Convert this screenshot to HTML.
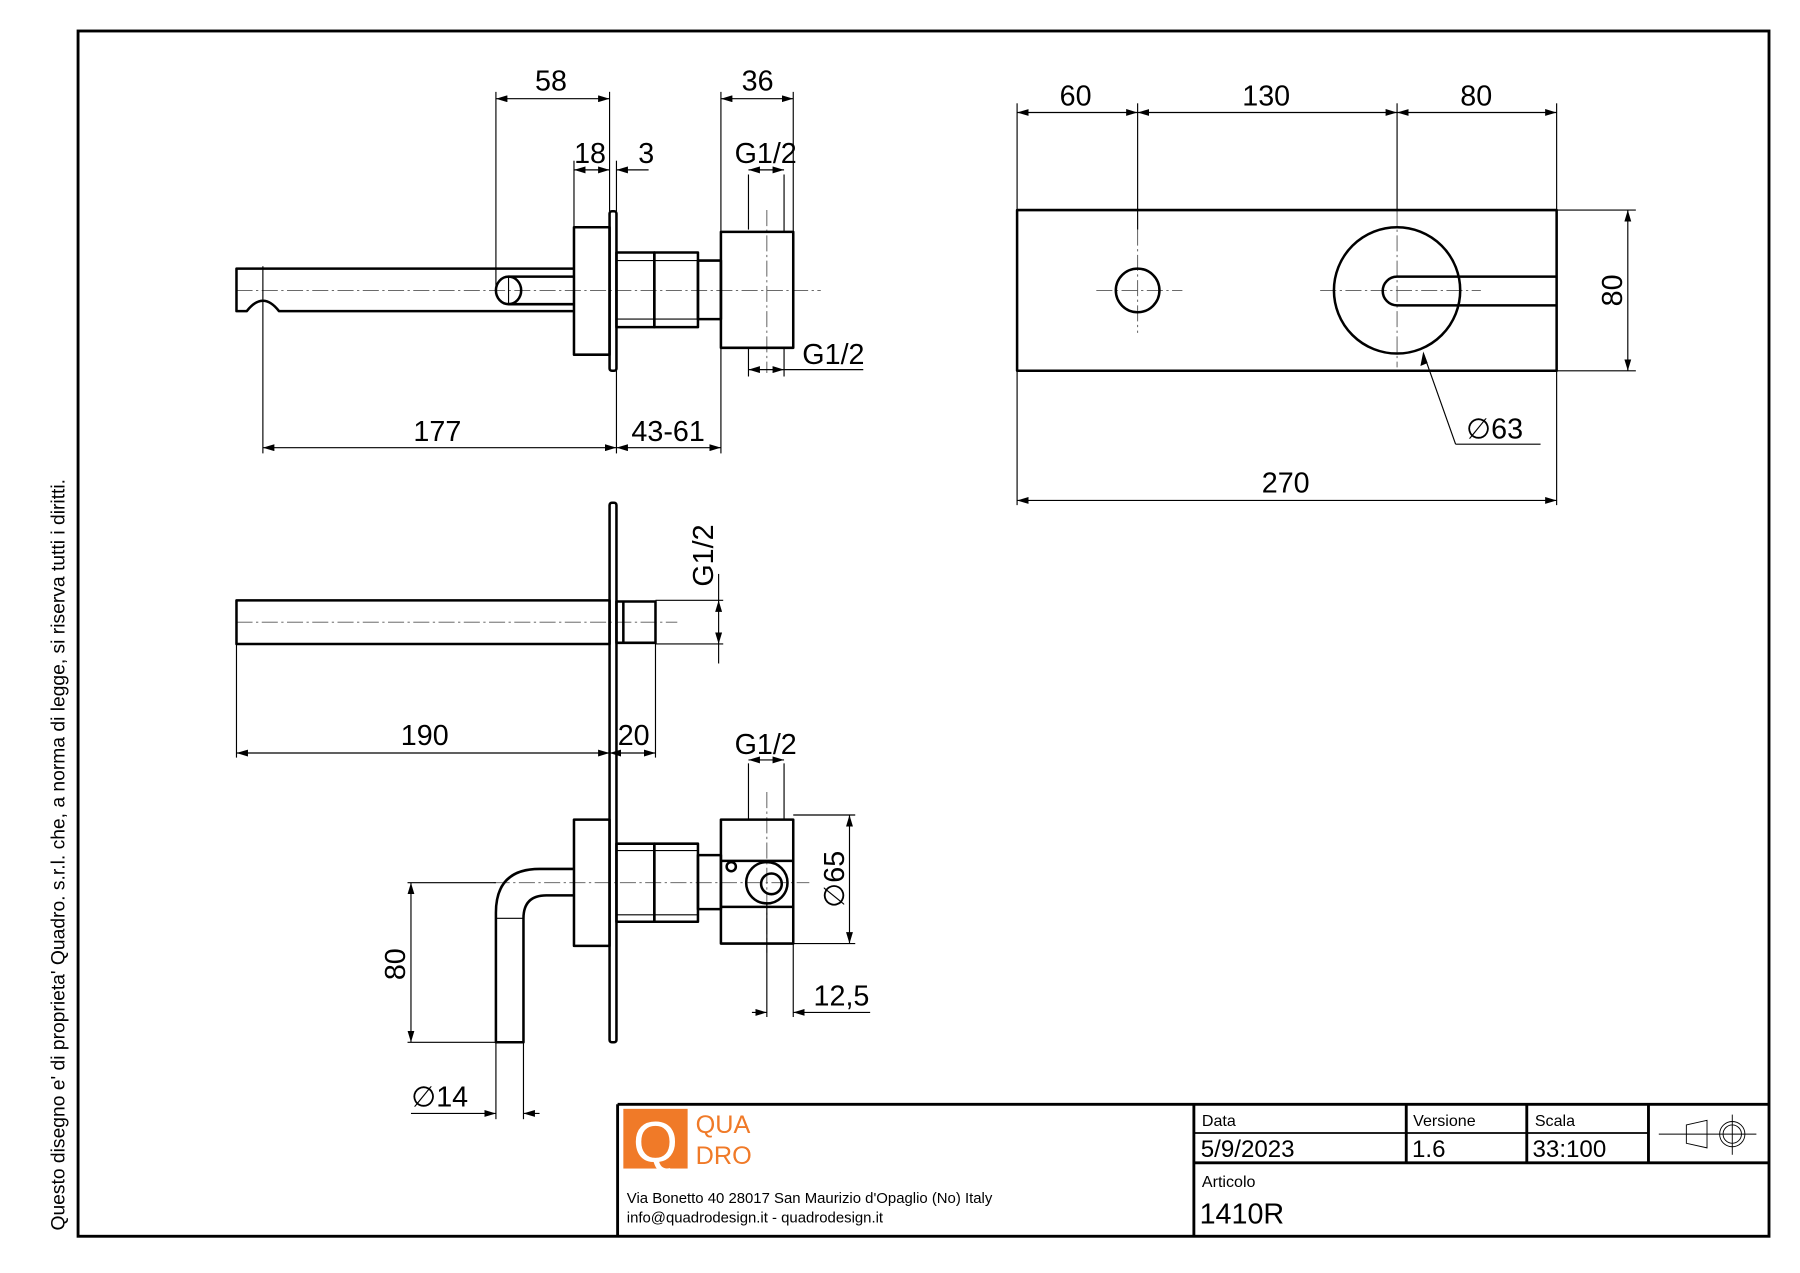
<!DOCTYPE html>
<html><head><meta charset="utf-8"><style>
html,body{margin:0;padding:0;background:#fff;}
svg{display:block;}
text{font-family:"Liberation Sans",sans-serif;fill:#000;}
</style></head><body>
<svg width="1800" height="1273" viewBox="0 0 1568 1109" preserveAspectRatio="none" xmlns="http://www.w3.org/2000/svg">
<defs>
<marker id="a" viewBox="0 0 10 6" refX="10" refY="3" markerWidth="10" markerHeight="6" orient="auto-start-reverse" markerUnits="userSpaceOnUse"><path d="M0,0 L10,3 L0,6 z" fill="#000"/></marker>
</defs>
<rect x="0" y="0" width="1568" height="1109" fill="#fff"/>
<rect x="68" y="27" width="1473" height="1050" fill="none" stroke="#000" stroke-width="2.5"/>
<text transform="translate(56,1072) rotate(-90)" font-size="16.8">Questo disegno e' di proprieta' Quadro. s.r.l. che, a norma di legge, si riserva tutti i diritti.</text>

<!-- title block -->
<g stroke="#000" stroke-width="2.5" fill="none">
<line x1="538" y1="962" x2="1541" y2="962"/>
<line x1="538" y1="962" x2="538" y2="1077"/>
<line x1="1040" y1="962" x2="1040" y2="1077"/>
<line x1="1040" y1="1013" x2="1541" y2="1013"/>
<line x1="1225" y1="962" x2="1225" y2="1013"/>
<line x1="1330" y1="962" x2="1330" y2="1013"/>
<line x1="1436" y1="962" x2="1436" y2="1013"/>
</g>
<line x1="1040" y1="987" x2="1436" y2="987" stroke="#000" stroke-width="1.5"/>
<g stroke="#000" stroke-width="0.8" fill="none">
<path d="M1469,980 L1487,976 L1487,1000 L1469,996 Z"/>
<line x1="1445" y1="988" x2="1530" y2="988"/>
<circle cx="1509" cy="988" r="11"/><circle cx="1509" cy="988" r="8"/>
<line x1="1509" y1="971" x2="1509" y2="1006"/>
</g>
<text x="1047" y="981" font-size="14">Data</text>
<text x="1231" y="981" font-size="14">Versione</text>
<text x="1337" y="981" font-size="14">Scala</text>
<text x="1046" y="1008" font-size="21">5/9/2023</text>
<text x="1230" y="1008" font-size="21">1.6</text>
<text x="1335" y="1008" font-size="21">33:100</text>
<text x="1047" y="1034" font-size="14">Articolo</text>
<text x="1045" y="1066" font-size="25">1410R</text>
<rect x="543" y="966" width="56" height="52" fill="#f07a28"/>
<text x="571" y="1012" font-size="50" text-anchor="middle" style="fill:#fff">Q</text>
<text x="606" y="987" font-size="22" style="fill:#f07a28">QUA</text>
<text x="606" y="1014" font-size="22" style="fill:#f07a28">DRO</text>
<text x="546" y="1048" font-size="13">Via Bonetto 40  28017 San Maurizio d'Opaglio (No) Italy</text>
<text x="546" y="1065" font-size="13">info@quadrodesign.it  -  quadrodesign.it</text>

<!-- centerlines -->
<g stroke="#555" stroke-width="0.8" stroke-dasharray="14,3,2,3" fill="none">
<line x1="206" y1="253" x2="715" y2="253"/>
<line x1="668" y1="183" x2="668" y2="325"/>
<line x1="206" y1="542" x2="590" y2="542"/>
<line x1="430" y1="769" x2="705" y2="769"/>
<line x1="668" y1="690" x2="668" y2="830"/>
<line x1="955" y1="253" x2="1030" y2="253"/>
<line x1="1150" y1="253" x2="1290" y2="253"/>
<line x1="991" y1="200" x2="991" y2="290"/>
<line x1="1217" y1="183" x2="1217" y2="320"/>
</g>

<!-- drawing parts -->
<g stroke="#000" stroke-width="2.2" fill="none" stroke-linejoin="round">
<path d="M500,234 L206,234 L206,271 L215,271 Q222,262 229,262 Q236,262 243,271 L500,271"/>
<line x1="443" y1="241" x2="500" y2="241"/>
<line x1="443" y1="265" x2="500" y2="265"/>
<ellipse cx="443" cy="253" rx="11" ry="12"/>
<rect x="500" y="198" width="31" height="111"/>
<rect x="531" y="184" width="6" height="139" rx="2"/>
<rect x="537" y="220" width="33" height="65"/>
<rect x="570" y="220" width="38" height="65"/>
<rect x="608" y="227" width="20" height="51"/>
<rect x="628" y="202" width="63" height="101"/>
<rect x="886" y="183" width="470" height="140"/>
<circle cx="991" cy="253" r="19"/>
<circle cx="1217" cy="253" r="55"/>
<path d="M1356,241 L1217,241 A12.5,12.5 0 0 0 1217,266 L1356,266"/>
<rect x="531" y="438" width="6" height="470" rx="2"/>
<rect x="206" y="523" width="325" height="38"/>
<rect x="537" y="524" width="34" height="36"/>
<line x1="543" y1="524" x2="543" y2="560"/>
<rect x="500" y="714" width="31" height="110"/>
<rect x="537" y="735" width="33" height="68"/>
<rect x="570" y="735" width="38" height="68"/>
<rect x="608" y="745" width="20" height="47"/>
<rect x="628" y="714" width="63" height="108"/>
<line x1="628" y1="750" x2="691" y2="750"/>
<line x1="628" y1="790" x2="691" y2="790"/>
<circle cx="668" cy="769" r="18"/>
<circle cx="672" cy="770" r="9"/>
<circle cx="637" cy="755" r="4"/>
<path d="M500,757 L470,757 Q432,757 432,795 L432,908 L456,908 L456,800 Q456,780 476,780 L500,780"/>
</g>
<g stroke="#000" stroke-width="1" fill="none">
<line x1="443" y1="241" x2="443" y2="265"/>
<line x1="537" y1="227" x2="608" y2="227"/><line x1="537" y1="278" x2="608" y2="278"/>
<line x1="537" y1="741" x2="608" y2="741"/><line x1="537" y1="797" x2="608" y2="797"/>
<line x1="432" y1="800" x2="456" y2="800"/>
</g>

<!-- extension lines -->
<g stroke="#000" stroke-width="1" fill="none">
<line x1="432" y1="80" x2="432" y2="253"/>
<line x1="531" y1="80" x2="531" y2="184"/>
<line x1="500" y1="140" x2="500" y2="198"/>
<line x1="537" y1="140" x2="537" y2="184"/>
<line x1="628" y1="80" x2="628" y2="202"/>
<line x1="691" y1="80" x2="691" y2="202"/>
<line x1="652" y1="152" x2="652" y2="200"/>
<line x1="683" y1="152" x2="683" y2="202"/>
<line x1="652" y1="303" x2="652" y2="328"/>
<line x1="683" y1="303" x2="683" y2="328"/>
<line x1="229" y1="232" x2="229" y2="395"/>
<line x1="537" y1="323" x2="537" y2="395"/>
<line x1="628" y1="303" x2="628" y2="395"/>
<line x1="886" y1="90" x2="886" y2="183"/>
<line x1="1356" y1="90" x2="1356" y2="183"/>
<line x1="991" y1="90" x2="991" y2="200"/>
<line x1="1217" y1="90" x2="1217" y2="183"/>
<line x1="1356" y1="183" x2="1425" y2="183"/>
<line x1="1356" y1="323" x2="1425" y2="323"/>
<line x1="886" y1="323" x2="886" y2="440"/>
<line x1="1356" y1="323" x2="1356" y2="440"/>
<line x1="1240" y1="308" x2="1268" y2="387"/>
<line x1="1268" y1="387" x2="1342" y2="387"/>
<line x1="571" y1="523" x2="630" y2="523"/>
<line x1="571" y1="561" x2="630" y2="561"/>
<line x1="206" y1="561" x2="206" y2="660"/>
<line x1="571" y1="561" x2="571" y2="660"/>
<line x1="531" y1="908" x2="531" y2="660"/>
<line x1="652" y1="665" x2="652" y2="714"/>
<line x1="683" y1="665" x2="683" y2="714"/>
<line x1="691" y1="710" x2="745" y2="710"/>
<line x1="691" y1="822" x2="745" y2="822"/>
<line x1="668" y1="786" x2="668" y2="886"/>
<line x1="691" y1="822" x2="691" y2="886"/>
<line x1="355" y1="769" x2="432" y2="769"/>
<line x1="355" y1="908" x2="432" y2="908"/>
<line x1="432" y1="908" x2="432" y2="975"/>
<line x1="456" y1="908" x2="456" y2="975"/>
</g>

<!-- dimension lines -->
<g stroke="#000" stroke-width="1" fill="none" marker-start="url(#a)" marker-end="url(#a)">
<line x1="432" y1="86" x2="531" y2="86"/>
<line x1="500" y1="148" x2="531" y2="148"/>
<line x1="628" y1="86" x2="691" y2="86"/>
<line x1="652" y1="148" x2="683" y2="148"/>
<line x1="652" y1="322" x2="683" y2="322"/>
<line x1="229" y1="390" x2="537" y2="390"/>
<line x1="537" y1="390" x2="628" y2="390"/>
<line x1="886" y1="98" x2="991" y2="98"/>
<line x1="991" y1="98" x2="1217" y2="98"/>
<line x1="1217" y1="98" x2="1356" y2="98"/>
<line x1="1418" y1="183" x2="1418" y2="323"/>
<line x1="886" y1="436" x2="1356" y2="436"/>
<line x1="626" y1="523" x2="626" y2="561"/>
<line x1="206" y1="656" x2="531" y2="656"/>
<line x1="531" y1="656" x2="571" y2="656"/>
<line x1="652" y1="662" x2="683" y2="662"/>
<line x1="740" y1="710" x2="740" y2="822"/>
<line x1="358" y1="769" x2="358" y2="908"/>
</g>
<g stroke="#000" stroke-width="1" fill="none">
<line x1="537" y1="148" x2="565" y2="148" marker-start="url(#a)"/>
<line x1="683" y1="322" x2="752" y2="322"/>
<line x1="626" y1="500" x2="626" y2="523"/>
<line x1="626" y1="561" x2="626" y2="578"/>
<line x1="655" y1="882" x2="668" y2="882" marker-end="url(#a)"/>
<line x1="691" y1="882" x2="758" y2="882" marker-start="url(#a)"/>
<line x1="358" y1="970" x2="432" y2="970" marker-end="url(#a)"/>
<line x1="456" y1="970" x2="470" y2="970" marker-start="url(#a)"/>
<path d="M1240,308 l-2,10 l5,-2 z" fill="#000"/>
</g>

<!-- dimension text -->
<g font-size="25" text-anchor="middle">
<text x="480" y="79">58</text>
<text x="514" y="142">18</text>
<text x="563" y="142">3</text>
<text x="660" y="79">36</text>
<text x="667" y="142">G1/2</text>
<text x="726" y="317">G1/2</text>
<text x="381" y="384">177</text>
<text x="582" y="384">43-61</text>
<text x="937" y="92">60</text>
<text x="1103" y="92">130</text>
<text x="1286" y="92">80</text>
<text transform="translate(1413,253) rotate(-90)">80</text>
<text x="1302" y="382">∅63</text>
<text x="1120" y="429">270</text>
<text transform="translate(621,484) rotate(-90)">G1/2</text>
<text x="370" y="649">190</text>
<text x="552" y="649">20</text>
<text x="667" y="657">G1/2</text>
<text transform="translate(735,766) rotate(-90)">∅65</text>
<text x="733" y="876">12,5</text>
<text transform="translate(353,840) rotate(-90)">80</text>
<text x="383" y="964">∅14</text>
</g>
</svg>
</body></html>
